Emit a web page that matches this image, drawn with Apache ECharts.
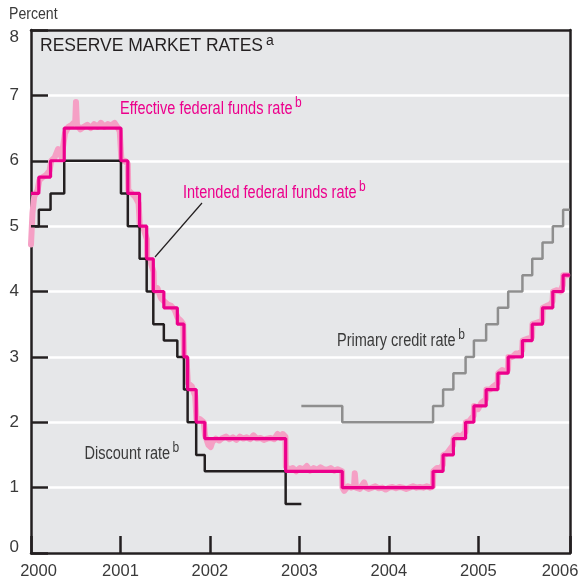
<!DOCTYPE html>
<html>
<head>
<meta charset="utf-8">
<script src="https://cdn.jsdelivr.net/npm/echarts@6/dist/echarts.min.js"></script>
<style>
html,body{margin:0;padding:0;background:#fff;}
#c{width:578px;height:586px;}
</style>
</head>
<body>
<div id="c"></div>
<script>
// ---- Data ----
var yearTicks = [2000, 2001, 2002, 2003, 2004, 2005, 2006];
var percentTicks = [0, 1, 2, 3, 4, 5, 6, 7, 8];

// Intended federal funds rate (change dates, new level)
var intendedDates = ['2000-01-01','2000-02-02','2000-03-21','2000-05-16','2001-01-03','2001-01-31','2001-03-20','2001-04-18','2001-05-15','2001-06-27','2001-08-21','2001-09-17','2001-10-02','2001-11-06','2001-12-11','2002-11-06','2003-06-25','2004-06-30','2004-08-10','2004-09-21','2004-11-10','2004-12-14','2005-02-02','2005-03-22','2005-05-03','2005-06-30','2005-08-09','2005-09-20','2005-11-01','2005-12-13','2006-01-10'];
var intendedValues = [5.5,5.75,6.0,6.5,6.0,5.5,5.0,4.5,4.0,3.75,3.5,3.0,2.5,2.0,1.75,1.25,1.0,1.25,1.5,1.75,2.0,2.25,2.5,2.75,3.0,3.25,3.5,3.75,4.0,4.25,4.25];

// Discount rate
var discountDates = ['2000-01-01','2000-02-02','2000-03-21','2000-05-16','2001-01-03','2001-01-31','2001-03-20','2001-04-18','2001-05-15','2001-06-27','2001-08-21','2001-09-17','2001-10-02','2001-11-06','2001-12-11','2002-11-06','2003-01-09'];
var discountValues = [5.0,5.25,5.5,6.0,5.5,5.0,4.5,4.0,3.5,3.25,3.0,2.5,2.0,1.5,1.25,0.75,0.75];

// Primary credit rate
var primaryDates = ['2003-01-09','2003-06-25','2004-06-30','2004-08-10','2004-09-21','2004-11-10','2004-12-14','2005-02-02','2005-03-22','2005-05-03','2005-06-30','2005-08-09','2005-09-20','2005-11-01','2005-12-13','2006-01-10'];
var primaryValues = [2.25,2.0,2.25,2.5,2.75,3.0,3.25,3.5,3.75,4.0,4.25,4.5,4.75,5.0,5.25,5.25];

// Effective federal funds rate (approximate readings)
var effectiveDates = [
'2000-01-01','2000-01-07','2000-01-14','2000-01-28','2000-02-04','2000-02-18','2000-03-03','2000-03-17','2000-03-24','2000-04-07','2000-04-21','2000-05-05','2000-05-19','2000-06-02','2000-06-16','2000-06-30','2000-07-03','2000-07-07','2000-07-21','2000-08-04','2000-08-18','2000-09-01','2000-09-15','2000-09-29','2000-10-13','2000-10-27','2000-11-10','2000-11-24','2000-12-08','2000-12-22','2000-12-29',
'2001-01-02','2001-01-05','2001-01-19','2001-01-31','2001-02-02','2001-02-16','2001-03-02','2001-03-16','2001-03-21','2001-04-06','2001-04-19','2001-04-20','2001-05-04','2001-05-16','2001-05-18','2001-06-01','2001-06-15','2001-06-28','2001-07-13','2001-07-27','2001-08-10','2001-08-22','2001-09-05','2001-09-14','2001-09-18','2001-09-28','2001-10-03','2001-10-19','2001-11-02','2001-11-07','2001-11-21','2001-12-07','2001-12-12','2001-12-26',
'2002-01-04','2002-01-11','2002-01-25','2002-02-08','2002-02-22','2002-03-08','2002-03-22','2002-04-05','2002-04-19','2002-05-03','2002-05-17','2002-05-31','2002-06-14','2002-06-28','2002-07-12','2002-07-26','2002-08-09','2002-08-23','2002-09-06','2002-09-20','2002-10-04','2002-10-18','2002-10-25','2002-11-05','2002-11-07','2002-11-21','2002-12-05','2002-12-19',
'2003-01-03','2003-01-17','2003-01-31','2003-02-14','2003-02-28','2003-03-14','2003-03-28','2003-04-11','2003-04-25','2003-05-09','2003-05-23','2003-06-06','2003-06-24','2003-06-26','2003-07-03','2003-07-18','2003-08-01','2003-08-12','2003-08-15','2003-08-20','2003-09-05','2003-09-22','2003-09-30','2003-10-10','2003-10-24','2003-11-07','2003-11-21','2003-12-05','2003-12-19',
'2004-01-02','2004-01-16','2004-01-30','2004-02-13','2004-02-27','2004-03-12','2004-03-26','2004-04-09','2004-04-23','2004-05-07','2004-05-21','2004-06-04','2004-06-18','2004-06-29','2004-07-01','2004-07-16','2004-07-30','2004-08-09','2004-08-11','2004-08-25','2004-09-10','2004-09-20','2004-09-22','2004-10-08','2004-10-22','2004-11-09','2004-11-11','2004-11-26','2004-12-13','2004-12-15','2004-12-31',
'2005-01-14','2005-02-01','2005-02-03','2005-02-18','2005-03-04','2005-03-21','2005-03-23','2005-04-08','2005-04-22','2005-05-02','2005-05-04','2005-05-20','2005-06-03','2005-06-17','2005-06-29','2005-07-01','2005-07-22','2005-08-08','2005-08-10','2005-08-26','2005-09-19','2005-09-21','2005-10-07','2005-10-21','2005-10-31','2005-11-02','2005-11-18','2005-12-02','2005-12-12','2005-12-14','2005-12-30'];
var effectiveValues = [
4.72,5.20,5.45,5.55,5.70,5.75,5.78,5.85,6.00,6.05,6.18,6.05,6.42,6.52,6.55,6.60,6.90,6.55,6.48,6.52,6.55,6.50,6.56,6.52,6.58,6.52,6.56,6.54,6.58,6.50,6.45,
6.20,6.00,6.00,5.95,5.55,5.50,5.45,5.35,5.00,4.95,4.80,4.50,4.45,4.30,4.00,4.05,3.90,3.85,3.80,3.78,3.72,3.60,3.55,3.50,3.00,2.95,2.60,2.55,2.40,2.05,2.05,2.00,1.80,1.65,
1.62,1.70,1.75,1.72,1.76,1.78,1.74,1.77,1.73,1.78,1.75,1.77,1.74,1.80,1.75,1.76,1.73,1.75,1.76,1.74,1.82,1.76,1.82,1.78,1.32,1.28,1.30,1.25,
1.30,1.28,1.33,1.26,1.30,1.27,1.31,1.28,1.27,1.30,1.26,1.28,1.25,1.00,0.95,1.02,1.00,1.02,1.22,1.00,0.98,1.08,1.00,0.98,1.00,1.02,0.99,1.00,0.97,
1.00,1.01,0.99,1.01,1.00,0.98,1.00,1.02,1.00,1.01,1.00,1.02,1.00,1.02,1.25,1.30,1.30,1.35,1.50,1.52,1.60,1.65,1.75,1.80,1.78,1.85,2.00,2.02,2.10,2.25,2.20,
2.30,2.35,2.50,2.50,2.55,2.60,2.75,2.80,2.78,2.80,3.00,3.00,3.05,3.05,3.10,3.25,3.28,3.30,3.50,3.52,3.55,3.75,3.78,3.80,3.85,4.00,4.02,4.00,4.10,4.25,4.25];

// ---- helpers ----
function decYear(s) {
  var p = s.split('-');
  var y = +p[0];
  var t = Date.UTC(y, +p[1] - 1, +p[2]);
  var a = Date.UTC(y, 0, 1), b = Date.UTC(y + 1, 0, 1);
  return y + (t - a) / (b - a);
}
function pairs(dates, vals) {
  return dates.map(function (d, i) { return [decYear(d), vals[i]]; });
}

var REG = '"Liberation Sans", Arial, Helvetica, sans-serif';
var TXT = '#3a3a3a';
var MAGENTA = '#ec008c';
var PINK = '#f5a0c5';
var BLACK = '#231f20';
var GRAY = '#8e8e8e';
var SX = 0.83; // horizontal squeeze for condensed-looking annotation text

var chart = echarts.init(document.getElementById('c'), null, {renderer: 'canvas'});

var axisLineStyle = {color: BLACK, width: 2.5};
var lastYear = yearTicks[yearTicks.length - 1];

function annot(x, y, txt, color) {
  return {
    type: 'text', x: x, y: y, z: 10, scaleX: SX,
    style: {
      text: '{m|' + txt + '}{s|b}', verticalAlign: 'middle',
      rich: {
        m: {fontFamily: REG, fontSize: 17.5, fill: color},
        s: {fontFamily: REG, fontSize: 14.5, fill: color, padding: [0, 0, 12, 3]}
      }
    }
  };
}

chart.setOption({
  animation: false,
  backgroundColor: '#ffffff',
  title: {
    left: 40, top: 34, padding: 0,
    text: '{m|RESERVE MARKET RATES}{s|a}',
    textStyle: {
      fontWeight: 'normal',
      rich: {
        m: {fontFamily: REG, fontSize: 17.5, fontWeight: 'normal', color: BLACK},
        s: {fontFamily: REG, fontSize: 14, fontWeight: 'normal', color: BLACK, padding: [0, 0, 11, 3]}
      }
    }
  },
  grid: {
    left: 31, right: 8, top: 30, bottom: 33,
    containLabel: false, outerBoundsMode: 'none',
    show: true, backgroundColor: '#e6e7e9', borderWidth: 0
  },
  xAxis: [{
    type: 'value', min: 2000, max: 2006.025, interval: 1, z: 1,
    axisLine: {show: true, onZero: false, lineStyle: axisLineStyle},
    axisTick: {show: true, inside: true, length: 17, lineStyle: {color: BLACK, width: 2.5}},
    splitLine: {show: false},
    axisLabel: {
      margin: 10, color: TXT, fontFamily: REG, fontSize: 16.5,
      formatter: function (v) {
        var yv = Math.floor(v + 1e-9);
        if (yv === yearTicks[0]) return '{first|' + yv + '}';
        if (yv >= lastYear) return '{last|' + lastYear + '}';
        return '' + yv;
      },
      rich: {
        first: {fontFamily: REG, fontSize: 16.5, color: TXT, padding: [0, 0, 0, 15]},
        last: {fontFamily: REG, fontSize: 16.5, color: TXT, padding: [0, 20, 0, 0]}
      },
      showMaxLabel: true, showMinLabel: true, hideOverlap: false
    }
  }, {
    type: 'value', position: 'top', min: 2000, max: 2006.025, z: 1,
    axisLine: {show: true, onZero: false, lineStyle: axisLineStyle},
    axisTick: {show: false}, axisLabel: {show: false}, splitLine: {show: false}
  }],
  yAxis: [{
    type: 'value', min: 0, max: 8, interval: 1, z: 0,
    axisLine: {show: true, onZero: false, lineStyle: axisLineStyle},
    axisTick: {show: true, inside: true, length: 17, lineStyle: {color: BLACK, width: 2.5}},
    splitLine: {show: true, lineStyle: {color: '#ffffff', width: 2.5}},
    axisLabel: {
      margin: 12, color: TXT, fontFamily: REG, fontSize: 17,
      formatter: function (v) {
        if (v === percentTicks[percentTicks.length - 1]) return '{top|' + v + '}';
        if (v === percentTicks[0]) return '{bot|' + v + '}';
        return '' + v;
      },
      rich: {
        top: {fontFamily: REG, fontSize: 17, color: TXT, padding: [14, 0, 0, 0]},
        bot: {fontFamily: REG, fontSize: 17, color: TXT, padding: [0, 0, 12, 0]}
      }
    }
  }, {
    type: 'value', position: 'right', min: 0, max: 8, z: 1,
    axisLine: {show: true, onZero: false, lineStyle: axisLineStyle},
    axisTick: {show: false}, axisLabel: {show: false}, splitLine: {show: false}
  }],
  series: [
    {
      name: 'Effective federal funds rate', type: 'line', showSymbol: false,
      data: pairs(effectiveDates, effectiveValues),
      lineStyle: {color: PINK, width: 6, join: 'round', cap: 'round'}, z: 2
    },
    {
      name: 'Discount rate', type: 'line', step: 'end', showSymbol: false,
      data: pairs(discountDates, discountValues),
      lineStyle: {color: BLACK, width: 2.5}, z: 3
    },
    {
      name: 'Primary credit rate', type: 'line', step: 'end', showSymbol: false,
      data: pairs(primaryDates, primaryValues),
      lineStyle: {color: GRAY, width: 2.5}, z: 3
    },
    {
      name: 'Intended federal funds rate', type: 'line', step: 'end', showSymbol: false,
      data: pairs(intendedDates, intendedValues),
      lineStyle: {color: MAGENTA, width: 3.2}, z: 4
    }
  ],
  graphic: [
    {type: 'text', x: 9, y: 14, scaleX: SX, style: {text: 'Percent', fontFamily: REG, fontSize: 17, fill: TXT, verticalAlign: 'middle'}},
    annot(120, 109, 'Effective federal funds rate', MAGENTA),
    annot(183, 193, 'Intended federal funds rate', MAGENTA),
    {type: 'line', z: 10, shape: {x1: 202, y1: 203, x2: 155, y2: 257}, style: {stroke: BLACK, lineWidth: 1.2}},
    annot(84.5, 454, 'Discount rate', TXT),
    annot(337, 341, 'Primary credit rate', TXT)
  ]
});
</script>
</body>
</html>
